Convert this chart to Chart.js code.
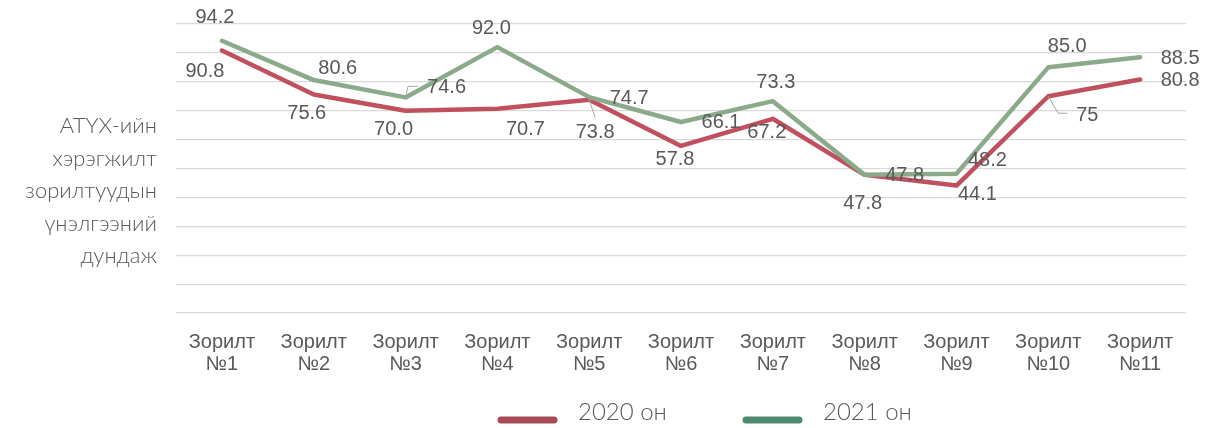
<!DOCTYPE html>
<html>
<head>
<meta charset="utf-8">
<script src="https://cdn.jsdelivr.net/npm/chart.js@4/dist/chart.umd.min.js"></script>
<style>
  html, body { margin: 0; padding: 0; background: #ffffff; }
  #wrap { width: 1214px; height: 428px; }
</style>
</head>
<body>
<div id="wrap"><canvas id="c" width="1214" height="428"></canvas></div>
<script>
// ---- data ----
const categories = ['Зорилт №1','Зорилт №2','Зорилт №3','Зорилт №4','Зорилт №5','Зорилт №6','Зорилт №7','Зорилт №8','Зорилт №9','Зорилт №10','Зорилт №11'];
const values2020 = [90.8, 75.6, 70.0, 70.7, 73.8, 57.8, 67.2, 47.8, 44.1, 75, 80.8];
const values2021 = [94.2, 80.6, 74.6, 92.0, 74.7, 66.1, 73.3, 47.8, 48.2, 85.0, 88.5];
const labels2020 = ['90.8','75.6','70.0','70.7','73.8','57.8','67.2','47.8','44.1','75','80.8'];
const labels2021 = ['94.2','80.6','74.6','92.0','74.7','66.1','73.3','47.8','48.2','85.0','88.5'];
const seriesNames = ['2020 он', '2021 он'];
const axisTitleLines = ['АТҮХ-ийн', 'хэрэгжилт', 'зорилтуудын', 'үнэлгээний', 'дундаж'];
const yMin = 0, yMax = 100, yStep = 10;

// ---- styling ----
const lineColors = ['#c0505d', '#8aaa8a'];
const legendColors = ['#a84a55', '#4e8a72'];
const textColor = '#595959';
const lightFont = '"Lato Light", Lato, "Noto Sans", sans-serif';
// data label offsets (px, relative to the point)
const offs2020 = [[-17,21],[-7,19],[-12,19],[28,21],[6,33],[-6,14],[-6,14],[-2,29],[21,9],[39,19],[40,1]];
const offs2021 = [[-7,-23],[24,-12],[41,-10],[-6,-19],[40,1],[40,1],[3,-19],[40,1],[31,-13],[19,-21],[40,1]];
// leader lines (relative polyline points) keyed by index
const leaders2020 = {4: [[0,0],[6,18]], 9: [[0,0],[10,17],[19,17]]};
const leaders2021 = {2: [[0,0],[2.5,-11],[12.5,-11]]};

const overlay = {
  id: 'overlay',
  afterDatasetsDraw(chart) {
    const ctx = chart.ctx;
    ctx.save();
    const sets = [
      {meta: chart.getDatasetMeta(0), labels: labels2020, offs: offs2020, leaders: leaders2020},
      {meta: chart.getDatasetMeta(1), labels: labels2021, offs: offs2021, leaders: leaders2021}
    ];
    sets.forEach(s => {
      s.meta.data.forEach((pt, i) => {
        const lead = s.leaders[i];
        if (lead) {
          ctx.strokeStyle = '#a6a6a6';
          ctx.lineWidth = 1;
          ctx.beginPath();
          lead.forEach((p, k) => {
            const x = pt.x + p[0], y = pt.y + p[1];
            if (k === 0) ctx.moveTo(x, y); else ctx.lineTo(x, y);
          });
          ctx.stroke();
        }
        ctx.fillStyle = textColor;
        ctx.font = '20px "Liberation Sans", Arial, sans-serif';
        ctx.textAlign = 'center';
        ctx.textBaseline = 'middle';
        ctx.fillText(s.labels[i], pt.x + s.offs[i][0], pt.y + s.offs[i][1]);
      });
    });
    ctx.restore();
  },
  afterDraw(chart) {
    const ctx = chart.ctx;
    const area = chart.chartArea;
    ctx.save();
    ctx.fillStyle = textColor;
    ctx.font = '300 22px ' + lightFont;
    ctx.textAlign = 'right';
    ctx.textBaseline = 'alphabetic';
    axisTitleLines.forEach((t, i) => {
      ctx.fillText(t, area.left - 19, 133 + i * 32.5);
    });
    const items = [
      {x: 498, name: seriesNames[0], color: legendColors[0]},
      {x: 743, name: seriesNames[1], color: legendColors[1]}
    ];
    items.forEach(it => {
      ctx.strokeStyle = it.color;
      ctx.lineWidth = 7;
      ctx.lineCap = 'round';
      ctx.beginPath();
      ctx.moveTo(it.x + 3, 420);
      ctx.lineTo(it.x + 56, 420);
      ctx.stroke();
      ctx.fillStyle = textColor;
      ctx.font = '300 24px ' + lightFont;
      ctx.textAlign = 'left';
      ctx.textBaseline = 'alphabetic';
      ctx.fillText(it.name, it.x + 80, 420);
    });
    ctx.restore();
  }
};

new Chart(document.getElementById('c'), {
  type: 'line',
  data: {
    labels: categories.map(c => c.split(' ')),
    datasets: [
      {label: seriesNames[0], data: values2020, borderColor: lineColors[0], backgroundColor: lineColors[0],
       borderWidth: 4.5, pointRadius: 0, tension: 0, order: 1, borderJoinStyle: 'round', borderCapStyle: 'round'},
      {label: seriesNames[1], data: values2021, borderColor: lineColors[1], backgroundColor: lineColors[1],
       borderWidth: 4.5, pointRadius: 0, tension: 0, order: 0, borderJoinStyle: 'round', borderCapStyle: 'round'}
    ]
  },
  options: {
    responsive: false,
    devicePixelRatio: 1,
    animation: false,
    layout: {padding: {left: 176, right: 28, top: 24, bottom: 0}},
    plugins: {legend: {display: false}, tooltip: {enabled: false}},
    scales: {
      x: {
        offset: true,
        grid: {display: false, drawTicks: false},
        border: {display: false},
        ticks: {
          color: textColor,
          font: {family: '"Liberation Sans", Arial, sans-serif', size: 20, lineHeight: 1.13},
          padding: 18,
          maxRotation: 0,
          autoSkip: false
        },
        afterFit(scale) { scale.height = 115; }
      },
      y: {
        min: yMin, max: yMax,
        ticks: {display: false, stepSize: yStep},
        grid: {color: '#d9d9d9', lineWidth: 1.2, drawTicks: false},
        border: {display: false},
        afterFit(scale) { scale.width = 0; }
      }
    }
  },
  plugins: [overlay]
});
</script>
</body>
</html>
